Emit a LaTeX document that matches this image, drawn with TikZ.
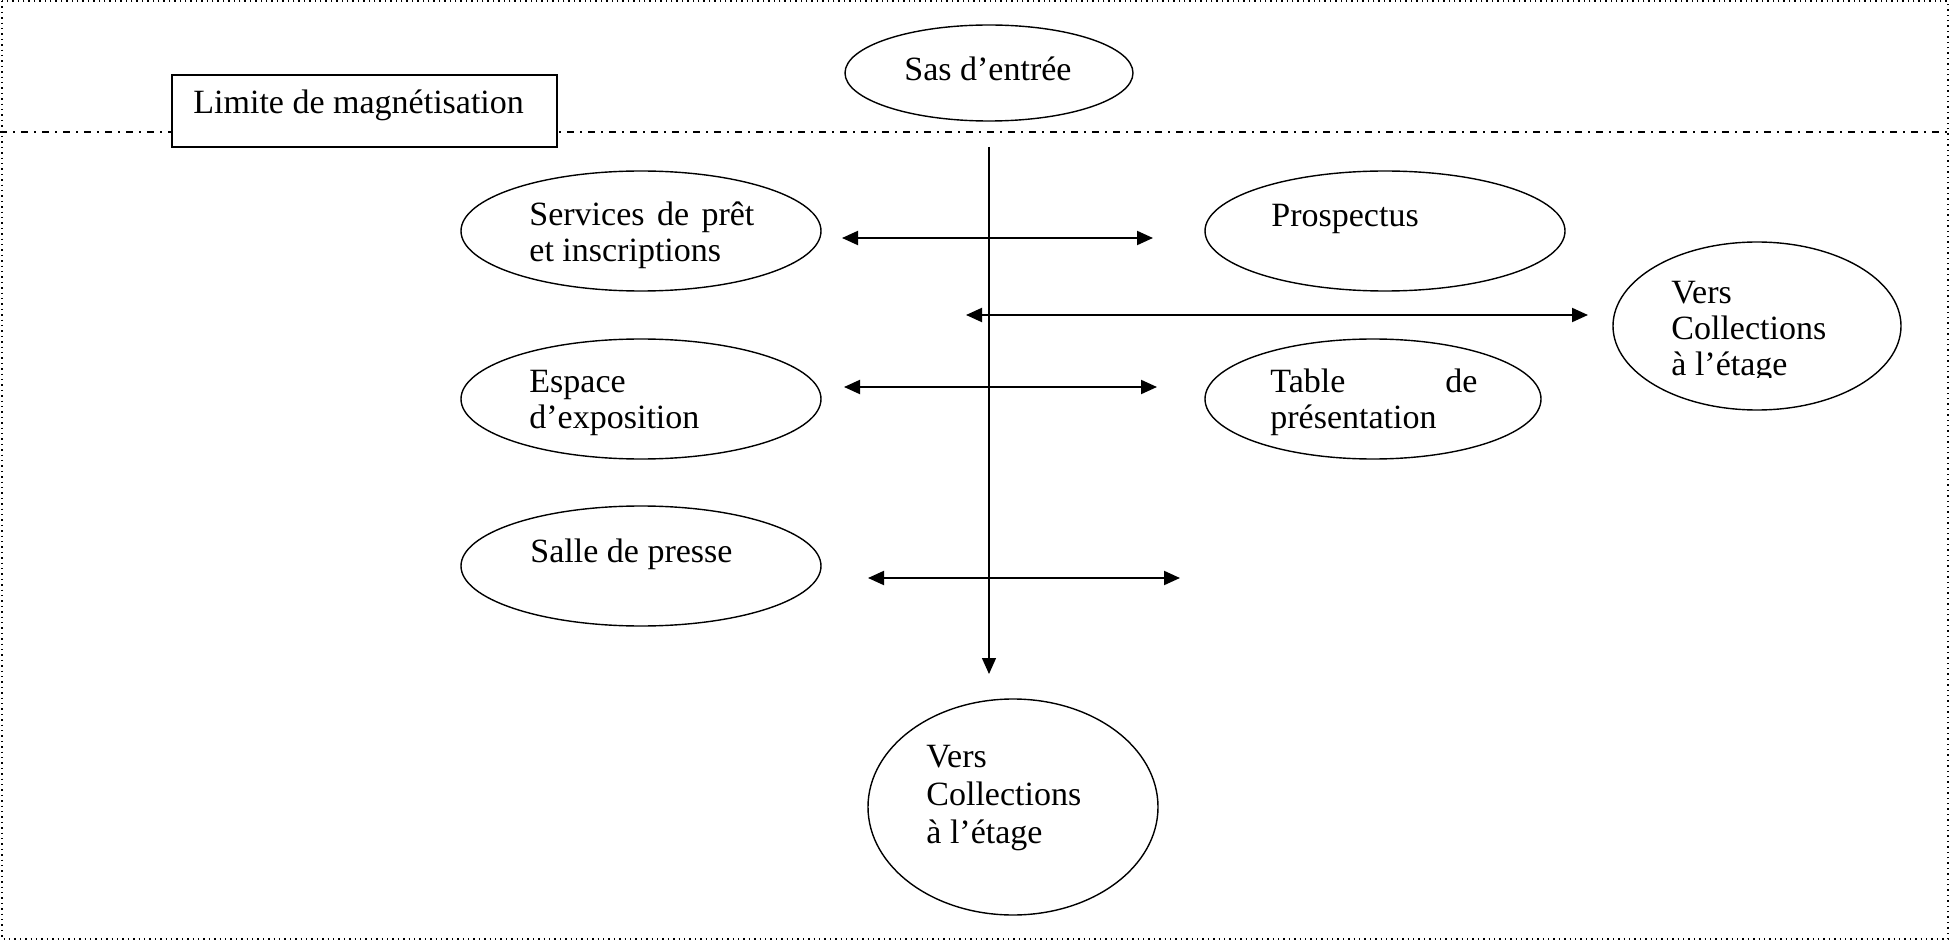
\documentclass[tikz,border=0pt]{standalone}
\usepackage{fontspec}
\setmainfont{Liberation Serif}
\usetikzlibrary{shapes.geometric,arrows.meta}
\begin{document}
\begin{tikzpicture}[x=0.5pt,y=-0.5pt,
  oval/.style={draw,ellipse,line width=0.7pt,inner sep=0pt},
  lbl/.style={anchor=base west,inner sep=0pt,font=\fontsize{17}{18}\selectfont,align=left},
  dbl/.style={line width=1pt,{Triangle[length=8pt,width=7pt]}-{Triangle[length=8pt,width=7pt]}},
  sgl/.style={line width=0.7pt,-{Triangle[length=8pt,width=7pt]}},
  limit/.style={line width=1pt,dash pattern=on 3.5pt off 3pt on 1pt off 3pt}]
\useasboundingbox (0,0) rectangle (1950,941);
% frame
\draw[dotted,line width=0.7pt] (2,1) rectangle (1948,939);
% magnetisation limit line
\coordinate (limL) at (0,132);
\coordinate (limR) at (1948,132);
\draw[limit] (limL) -- (limR);
\node[draw,fill=white,line width=0.8pt,minimum width=192.5pt,minimum height=36pt,inner sep=0pt] (box) at (364.5,111) {};
\node[lbl] (boxt) at (193,114) {Limite de magnétisation};
% ellipses
\node[oval,minimum width=144pt,minimum height=48pt] (sas) at (989,73) {};
\node[lbl] (sast) at (904,81) {Sas d’entrée};
\node[oval,minimum width=180pt,minimum height=60pt] (serv) at (641,231) {};
\node[lbl] (servt) at (529,262) {\makebox[112.5pt][s]{Services de prêt}\\et inscriptions};
\node[oval,minimum width=180pt,minimum height=60pt] (prosp) at (1385,231) {};
\node[lbl] (prospt) at (1271,227) {Prospectus};
\node[oval,minimum width=144pt,minimum height=84pt] (versR) at (1757,326) {};
\begin{scope}
\clip (1600,260) rectangle (1900,378);
\node[lbl] (versRt) at (1671,376) {Vers\\Collections\\à l’étage};
\end{scope}
\node[oval,minimum width=180pt,minimum height=60pt] (esp) at (641,399) {};
\node[lbl] (espt) at (529,429) {Espace\\d’exposition};
\node[oval,minimum width=168pt,minimum height=60pt] (table) at (1373,399) {};
\node[lbl] (tablet) at (1270,429) {\makebox[103.5pt][s]{Table\hfill de}\\présentation};
\node[oval,minimum width=180pt,minimum height=60pt] (salle) at (641,566) {};
\node[lbl] (sallet) at (530,562) {Salle de presse};
\node[oval,minimum width=145pt,minimum height=108pt] (versB) at (1013,807) {};
\node[lbl,font=\fontsize{17}{19}\selectfont] (versBt) at (926,843) {Vers\\Collections\\à l’étage};
% connectors
\coordinate (vtop) at (989,147);
\coordinate (vbot) at (989,674);
\draw[sgl] (vtop) -- (vbot);
\coordinate (a1l) at (842,238);
\coordinate (a1r) at (1153,238);
\draw[dbl] (a1l) -- (a1r);
\coordinate (a2l) at (966,315);
\coordinate (a2r) at (1588,315);
\draw[dbl] (a2l) -- (a2r);
\coordinate (a3l) at (844,387);
\coordinate (a3r) at (1157,387);
\draw[dbl] (a3l) -- (a3r);
\coordinate (a4l) at (868,578);
\coordinate (a4r) at (1180,578);
\draw[dbl] (a4l) -- (a4r);
\end{tikzpicture}
\end{document}
